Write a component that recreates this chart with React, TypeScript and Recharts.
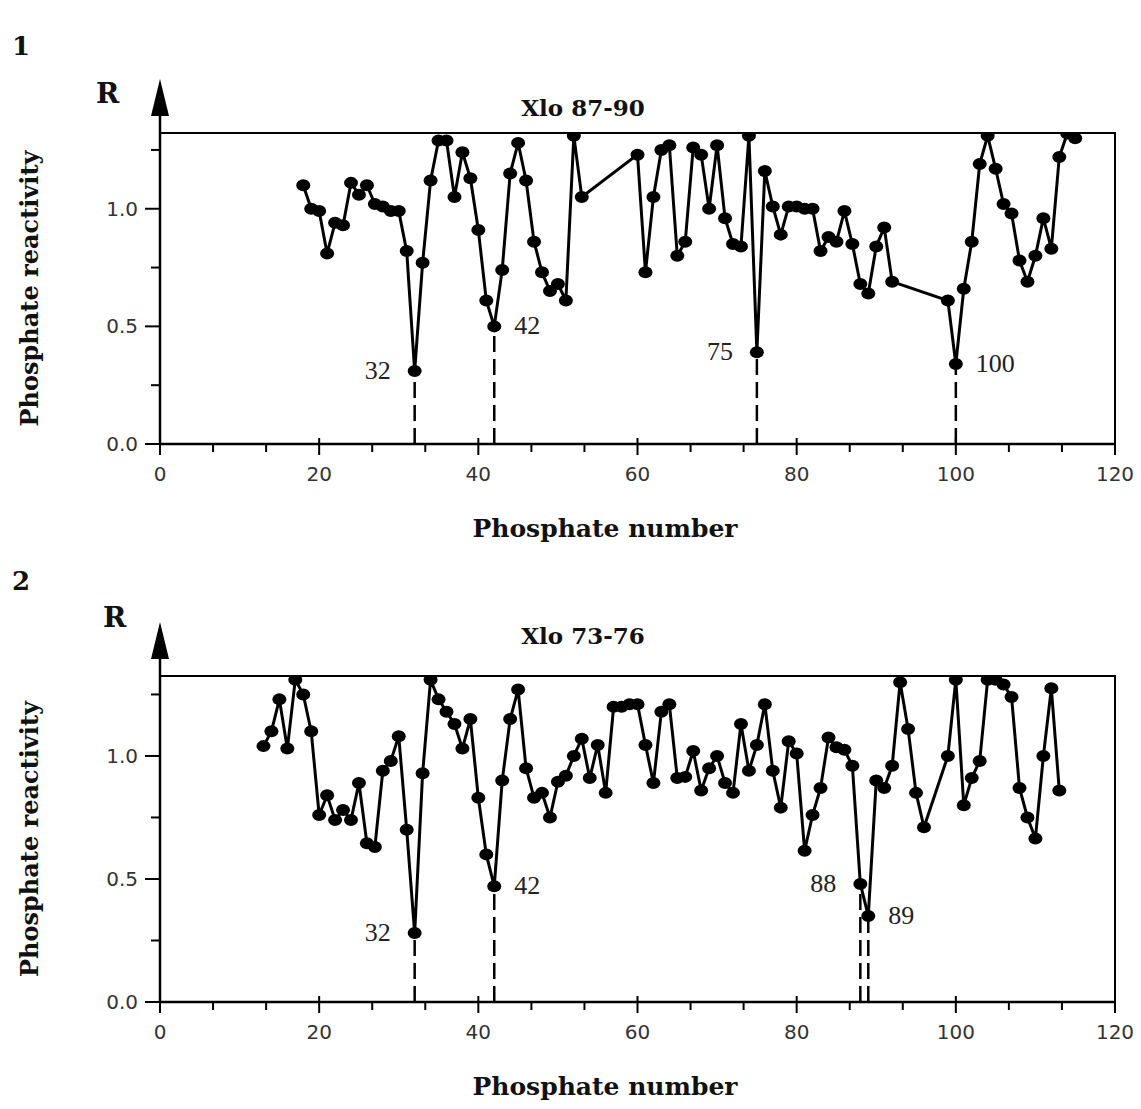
import React from 'react';
import {
    LineChart,
    Line,
    XAxis,
    YAxis,
    ReferenceLine,
    ReferenceArea,
} from 'recharts';

// Xlo 87-90: phosphate positions and reactivity
const xlo8790Pos = [
    18, 19, 20, 21, 22, 23, 24, 25, 26, 27, 28, 29, 30, 31, 32, 33, 34, 35, 36, 37, 38, 39, 40, 41, 42, 43, 44, 45, 46, 47, 48, 49, 50, 51, 52, 53,
    60, 61, 62, 63, 64, 65, 66, 67, 68, 69, 70, 71, 72, 73, 74, 75, 76, 77, 78, 79, 80, 81, 82, 83, 84, 85, 86, 87, 88, 89, 90, 91, 92,
    99, 100, 101, 102, 103, 104, 105, 106, 107, 108, 109, 110, 111, 112, 113, 114, 115,
];
const xlo8790R = [
    1.10, 1.00, 0.99, 0.81, 0.94, 0.93, 1.11, 1.06, 1.10, 1.02, 1.01, 0.99, 0.99, 0.82, 0.31, 0.77, 1.12, 1.29, 1.29, 1.05, 1.24, 1.13, 0.91, 0.61, 0.50, 0.74, 1.15, 1.28, 1.12, 0.86, 0.73, 0.65, 0.68, 0.61, 1.31, 1.05,
    1.23, 0.73, 1.05, 1.25, 1.27, 0.80, 0.86, 1.26, 1.23, 1.00, 1.27, 0.96, 0.85, 0.84, 1.31, 0.39, 1.16, 1.01, 0.89, 1.01, 1.01, 1.00, 1.00, 0.82, 0.88, 0.86, 0.99, 0.85, 0.68, 0.64, 0.84, 0.92, 0.69,
    0.61, 0.34, 0.66, 0.86, 1.19, 1.31, 1.17, 1.02, 0.98, 0.78, 0.69, 0.80, 0.96, 0.83, 1.22, 1.32, 1.30,
];
const xlo8790Marked = [32, 42, 75, 100];
const xlo8790Side = ['left', 'right', 'left', 'right'];

// Xlo 73-76
const xlo7376Pos = [
    13, 14, 15, 16, 17, 18, 19, 20, 21, 22, 23, 24, 25, 26, 27, 28, 29, 30, 31, 32, 33, 34, 35, 36, 37, 38, 39, 40, 41, 42, 43, 44, 45, 46, 47,
    48, 49, 50, 51, 52, 53, 54, 55, 56, 57, 58, 59, 60, 61, 62, 63, 64, 65, 66, 67, 68, 69, 70, 71, 72, 73, 74, 75, 76, 77, 78, 79, 80,
    81, 82, 83, 84, 85, 86, 87, 88, 89, 90, 91, 92, 93, 94, 95, 96,
    99, 100, 101, 102, 103, 104, 105, 106, 107, 108, 109, 110, 111, 112, 113,
];
const xlo7376R = [
    1.04, 1.10, 1.23, 1.03, 1.31, 1.25, 1.10, 0.76, 0.84, 0.74, 0.78, 0.74, 0.89, 0.645, 0.63, 0.94, 0.98, 1.08, 0.70, 0.28, 0.93, 1.31, 1.23, 1.18, 1.13, 1.03, 1.15, 0.83, 0.60, 0.47, 0.90, 1.15, 1.27, 0.95, 0.83,
    0.85, 0.75, 0.895, 0.92, 1.00, 1.07, 0.91, 1.045, 0.85, 1.20, 1.20, 1.21, 1.21, 1.045, 0.89, 1.18, 1.21, 0.91, 0.915, 1.02, 0.86, 0.95, 1.00, 0.89, 0.85, 1.13, 0.94, 1.045, 1.21, 0.94, 0.79, 1.06, 1.01,
    0.615, 0.76, 0.87, 1.075, 1.035, 1.025, 0.96, 0.48, 0.35, 0.90, 0.87, 0.96, 1.30, 1.11, 0.85, 0.71,
    1.00, 1.31, 0.80, 0.91, 0.98, 1.31, 1.31, 1.29, 1.24, 0.87, 0.75, 0.665, 1.00, 1.275, 0.86,
];
const xlo7376Marked = [32, 42, 88, 89];
const xlo7376Side = ['left', 'right', 'left', 'right'];

// axis ticks
const xMajorTicks = [0, 20, 40, 60, 80, 100, 120];
const yMajorTicks = [0, 0.5, 1.0];
const yMinorTicks = [0.25, 0.75, 1.25];

const xTicks: number[] = [];
xMajorTicks.forEach((t, i) => {
    xTicks.push(t);
    if (i < xMajorTicks.length - 1) {
        xTicks.push(t + 20 / 3, t + 40 / 3);
    }
});
const yTicks = [...yMajorTicks, ...yMinorTicks].sort((a, b) => a - b);

const TITLE_FONT = '"DejaVu Serif", serif';
const TICK_FONT = '"DejaVu Sans", sans-serif';

const isMajorX = (v: number) => xMajorTicks.some((t) => Math.abs(t - v) < 1e-6);

const XTick = (props: any) => {
    const { x, y, payload } = props;
    const major = isMajorX(payload.value);
    return (
        <g>
            <line x1={x} x2={x} y1={major ? y - 6 : y} y2={major ? y + 11 : y + 8} stroke="#000" strokeWidth={2} />
            {major && (
                <text x={x} y={y + 37} textAnchor="middle" fontFamily={TICK_FONT} fontSize={20} fill="#333">
                    {payload.value}
                </text>
            )}
        </g>
    );
};

const YTick = (props: any) => {
    const { x, y, payload } = props;
    const major = yMajorTicks.includes(payload.value);
    return (
        <g>
            <line x1={x - (major ? 15 : 9)} x2={x} y1={y} y2={y} stroke="#000" strokeWidth={2} />
            {major && (
                <text x={x - 22} y={y + 7} textAnchor="end" fontFamily={TICK_FONT} fontSize={20} fill="#333">
                    {payload.value.toFixed(1)}
                </text>
            )}
        </g>
    );
};

type PanelProps = {
    num: string;
    title: string;
    pos: number[];
    values: number[];
    marked: number[];
    sides: string[];
    top: number;
    height: number;
    plotTop: number;
    plotBottom: number;
    yMax: number;
    numY: number;
    rX: number;
    rY: number;
    titleY: number;
};

function ReactivityPanel({ num, title, pos, values, marked, sides, top, height, plotTop, plotBottom, yMax, numY, rX, rY, titleY }: PanelProps) {
    const data = pos.map((p, i) => ({ pos: p, r: values[i] }));
    const plotLeft = 160;
    const plotRight = 1115;
    const xAxisHeight = 40;
    const yAxisWidth = 60;

    const renderDot = (props: any) => {
        const { cx, cy, payload, index } = props;
        const k = marked.indexOf(payload.pos);
        return (
            <g key={`dot-${index}`}>
                <ellipse cx={cx} cy={cy} rx={7} ry={6} fill="#000" />
                {k >= 0 && (
                    <text
                        x={sides[k] === 'left' ? cx - 24 : cx + 20}
                        y={cy + 8}
                        textAnchor={sides[k] === 'left' ? 'end' : 'start'}
                        fontFamily='"Liberation Serif", serif'
                        fontSize={26}
                        fill="#222"
                    >
                        {payload.pos}
                    </text>
                )}
            </g>
        );
    };

    return (
        <div style={{ position: 'absolute', left: 0, top, width: 1141, height }}>
            <LineChart
                width={1141}
                height={height}
                data={data}
                margin={{
                    top: plotTop,
                    right: 1141 - plotRight,
                    bottom: height - plotBottom - xAxisHeight,
                    left: plotLeft - yAxisWidth,
                }}
            >
                <XAxis
                    dataKey="pos"
                    type="number"
                    domain={[0, 120]}
                    ticks={xTicks}
                    interval={0}
                    height={xAxisHeight}
                    tickSize={0}
                    tickMargin={0}
                    tickLine={false}
                    tick={<XTick />}
                    axisLine={{ stroke: '#000', strokeWidth: 2.5 }}
                />
                <YAxis
                    type="number"
                    domain={[0, yMax]}
                    ticks={yTicks}
                    interval={0}
                    width={yAxisWidth}
                    tickSize={0}
                    tickMargin={0}
                    tickLine={false}
                    tick={<YTick />}
                    axisLine={{ stroke: '#000', strokeWidth: 2.5 }}
                    allowDataOverflow
                />
                <ReferenceArea x1={0} x2={120} y1={0} y2={yMax} fill="none" stroke="#000" strokeWidth={2} ifOverflow="visible" />
                {marked.map((m) => {
                    const v = values[pos.indexOf(m)];
                    return (
                        <ReferenceLine
                            key={`drop-${m}`}
                            segment={[{ x: m, y: 0 }, { x: m, y: v }]}
                            stroke="#000"
                            strokeWidth={2.5}
                            strokeDasharray="16 7"
                        />
                    );
                })}
                <Line
                    type="linear"
                    dataKey="r"
                    stroke="#000"
                    strokeWidth={3}
                    dot={renderDot}
                    activeDot={false}
                    isAnimationActive={false}
                />
            </LineChart>

            {/* panel number, axis arrow and titles */}
            <svg width={1141} height={height} style={{ position: 'absolute', left: 0, top: 0, pointerEvents: 'none' }}>
                <text x={12} y={numY} fontFamily={TITLE_FONT} fontWeight="bold" fontSize={26} fill="#111">
                    {num}
                </text>
                <text x={rX} y={rY} fontFamily={TITLE_FONT} fontWeight="bold" fontSize={28} fill="#111">
                    R
                </text>
                <line x1={plotLeft} x2={plotLeft} y1={plotTop} y2={plotTop - 20} stroke="#000" strokeWidth={2.5} />
                <polygon
                    points={`${plotLeft},${plotTop - 54} ${plotLeft - 9},${plotTop - 17} ${plotLeft + 9},${plotTop - 17}`}
                    fill="#000"
                />
                <text x={583} y={titleY} textAnchor="middle" fontFamily={TITLE_FONT} fontWeight="bold" fontSize={23} fill="#111">
                    {title}
                </text>
                <text
                    x={0}
                    y={0}
                    transform={`translate(38, ${(plotTop + plotBottom) / 2}) rotate(-90)`}
                    textAnchor="middle"
                    fontFamily={TITLE_FONT}
                    fontWeight="bold"
                    fontSize={24}
                    fill="#111"
                >
                    Phosphate reactivity
                </text>
                <text
                    x={605}
                    y={plotBottom + 93}
                    textAnchor="middle"
                    fontFamily={TITLE_FONT}
                    fontWeight="bold"
                    fontSize={25}
                    fill="#111"
                >
                    Phosphate number
                </text>
            </svg>
        </div>
    );
}

export default function App() {
    return (
        <div style={{ position: 'absolute', left: 0, top: 0, width: 1141, height: 1109, background: '#fff' }}>
            <ReactivityPanel
                num="1"
                title="Xlo 87-90"
                pos={xlo8790Pos}
                values={xlo8790R}
                marked={xlo8790Marked}
                sides={xlo8790Side}
                top={0}
                height={560}
                plotTop={133}
                plotBottom={444}
                yMax={1.322}
                numY={55}
                rX={96}
                rY={103}
                titleY={116}
            />
            <ReactivityPanel
                num="2"
                title="Xlo 73-76"
                pos={xlo7376Pos}
                values={xlo7376R}
                marked={xlo7376Marked}
                sides={xlo7376Side}
                top={560}
                height={549}
                plotTop={116}
                plotBottom={442}
                yMax={1.325}
                numY={30}
                rX={103}
                rY={67}
                titleY={84}
            />
        </div>
    );
}
